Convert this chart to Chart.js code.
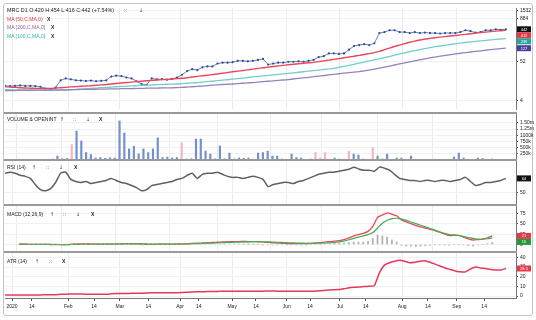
<!DOCTYPE html>
<html>
<head>
<meta charset="utf-8">
<script src="https://cdn.jsdelivr.net/npm/chart.js@4.4.0/dist/chart.umd.min.js"></script>
<style>
  body { margin: 0; background: #fff; width: 536px; height: 320px; overflow: hidden; position: relative;
         font-family: "Liberation Sans", Arial, sans-serif; }
  canvas { position: absolute; left: 0; }
  .frame { position: absolute; left: 3px; top: 3px; width: 528px; height: 311px; border: 1px solid #c4c4c4; border-radius: 3px; }
  .sep { position: absolute; left: 4px; width: 513px; height: 2px; background: #999; }
  .lbl { position: absolute; font-size: 5px; line-height: 6px; color: #222; white-space: nowrap; }
  .ico { position: absolute; font-size: 5px; line-height: 6px; color: #333; font-family: "DejaVu Sans", sans-serif; }
</style>
</head>
<body>
<div class="frame"></div>
<canvas id="priceChart" width="536" height="109" style="top:4px"></canvas>
<canvas id="volChart" width="536" height="46" style="top:114px"></canvas>
<canvas id="rsiChart" width="536" height="44" style="top:161px"></canvas>
<canvas id="macdChart" width="536" height="46" style="top:206px"></canvas>
<canvas id="atrChart" width="536" height="61" style="top:253px"></canvas>

<div class="sep" style="top:112px"></div>
<div class="sep" style="top:159px"></div>
<div class="sep" style="top:204px"></div>
<div class="sep" style="top:251px"></div>

<div class="lbl" style="left:7px;top:7px;font-size:5.4px">MRC D1 O:420 H:454 L:416 C:442 (+7.54%)</div>
<div class="ico" style="left:124px;top:7px">∷</div>
<div class="ico" style="left:139px;top:7px">↓</div>
<div class="lbl" style="left:7px;top:16px;color:#e03545">MA (50,C,MA,0)</div>
<div class="lbl" style="left:47px;top:16px;font-weight:bold">X</div>
<div class="lbl" style="left:7px;top:24px;color:#8a62a8">MA (200,C,MA,0)</div>
<div class="lbl" style="left:51px;top:24px;font-weight:bold">X</div>
<div class="lbl" style="left:7px;top:33px;color:#2fb0a6">MA (100,C,MA,0)</div>
<div class="lbl" style="left:51px;top:33px;font-weight:bold">X</div>

<div class="lbl" style="left:7px;top:116px">VOLUME &amp; OPENINT</div>
<div class="ico" style="left:60px;top:116px">↑</div>
<div class="ico" style="left:73px;top:116px">∷</div>
<div class="ico" style="left:86px;top:116px">↓</div>
<div class="lbl" style="left:99px;top:116px;font-weight:bold">X</div>

<div class="lbl" style="left:7px;top:164px">RSI (14)</div>
<div class="ico" style="left:32px;top:164px">↑</div>
<div class="ico" style="left:46px;top:164px">∷</div>
<div class="ico" style="left:59px;top:164px">↓</div>
<div class="lbl" style="left:74px;top:164px;font-weight:bold">X</div>

<div class="lbl" style="left:7px;top:211px">MACD (12,26,9)</div>
<div class="ico" style="left:50px;top:211px">↑</div>
<div class="ico" style="left:63px;top:211px">∷</div>
<div class="ico" style="left:76px;top:211px">↓</div>
<div class="lbl" style="left:91px;top:211px;font-weight:bold">X</div>

<div class="lbl" style="left:7px;top:258px">ATR (14)</div>
<div class="ico" style="left:35px;top:258px">↑</div>
<div class="ico" style="left:49px;top:258px">∷</div>
<div class="lbl" style="left:62px;top:258px;font-weight:bold">X</div>

<script>
// x axis ticks (in bar index units)
const xTickPos = [1.4, 5.3, 12.5, 17.6, 22.7, 28.3, 34.6, 38.3, 44.9, 49.6, 55.7, 60.3, 66.2, 71.3, 78.5, 83.6, 89.3, 94.7];
const xTickLabels = ['2020', '14', 'Feb', '14', 'Mar', '14', 'Apr', '14', 'May', '14', 'Jun', '14', 'Jul', '14', 'Aug', '14', 'Sep', '14'];

// price + moving averages
const price = [
  10.6, 10.4, 10.6, 10.9, 10.6, 10.6, 10.4, 10.0, 8.9, 8.5,
  9.4, 15.3, 17.3, 16.3, 15.3, 15.0, 14.6, 15.0, 14.4, 14.8,
  15.2, 19.6, 20.8, 20.2, 18.4, 17.3, 14.4, 12.0, 11.3, 17.3,
  16.3, 16.5, 16.0, 16.8, 18.4, 22.1, 28.2, 31.9, 30.0, 36.1,
  38.3, 38.3, 46.0, 48.9, 49.0, 50.5, 55.3, 55.0, 53.6, 55.3,
  58.8, 62.5, 43.3, 46.0, 48.9, 48.9, 52.0, 52.0, 53.6, 52.0,
  55.3, 58.8, 70.6, 75.0, 90.0, 90.0, 87.0, 90.0, 115, 147,
  156, 166, 156, 176, 345, 367, 415, 415, 367, 367,
  345, 367, 345, 356, 345, 345, 335, 345, 345, 345,
  367, 415, 390, 356, 367, 415, 415, 441, 428, 442
];
const ma50 = [
  10.0, 9.8, 9.6, 9.4, 9.2, 9.1, 9.0, 8.9, 8.9, 9.0,
  9.2, 9.4, 9.6, 9.9, 10.1, 10.3, 10.5, 10.7, 11.0, 11.3,
  11.6, 12.0, 12.4, 12.8, 13.2, 13.6, 14.0, 14.4, 14.8, 15.2,
  15.6, 16.0, 16.3, 16.7, 17.1, 17.5, 18.2, 19.0, 19.8, 20.6,
  21.4, 22.3, 23.3, 24.4, 25.6, 26.8, 28.0, 29.2, 30.5, 32,
  33.5, 35, 36.5, 38, 39.5, 41, 42.5, 44, 45.5, 47,
  48.5, 50, 52.5, 55, 58, 61, 64, 67.5, 71, 75,
  79, 84, 89, 95, 103, 115, 128, 142, 156, 171,
  188, 203, 218, 232, 243, 254, 264, 273, 283, 293,
  305, 317, 330, 342, 355, 367, 380, 392, 403, 412
];
const ma100 = [
  8.3, 8.3, 8.2, 8.2, 8.1, 8.1, 8.0, 8.0, 7.9, 7.9,
  7.9, 7.9, 8.0, 8.2, 8.4, 8.6, 8.8, 9.0, 9.2, 9.4,
  9.6, 9.8, 10.0, 10.2, 10.4, 10.6, 10.8, 11.0, 11.1, 11.3,
  11.5, 11.6, 11.8, 11.9, 12.0, 12.3, 12.6, 12.9, 13.2, 13.6,
  14.0, 14.4, 14.9, 15.4, 15.9, 16.5, 17.1, 17.7, 18.4, 19.1,
  19.8, 20.5, 21.2, 21.9, 22.7, 23.5, 24.3, 25.1, 26.0, 26.9,
  27.9, 29.0, 30.0, 31.2, 32.4, 33.7, 36, 38.5, 41, 44,
  47.5, 51, 55, 59, 63, 68, 74, 80, 87, 94,
  101, 108, 116, 124, 132, 140, 147, 154, 162, 170,
  178, 185, 192, 199, 206, 213, 220, 227, 233, 239
];
const ma200 = [
  7.8, 7.8, 7.8, 7.9, 7.9, 7.9, 8.0, 8.0, 8.0, 8.1,
  8.1, 8.2, 8.2, 8.3, 8.3, 8.4, 8.4, 8.5, 8.5, 8.6,
  8.6, 8.7, 8.7, 8.8, 8.8, 8.9, 8.95, 9.0, 9.1, 9.15,
  9.2, 9.25, 9.3, 9.35, 9.4, 9.6, 9.8, 10.0, 10.2, 10.5,
  10.8, 11.2, 11.4, 11.6, 11.8, 12.0, 12.3, 12.6, 12.9, 13.2,
  13.6, 14.0, 14.4, 14.8, 15.2, 15.6, 16.1, 16.7, 17.3, 17.9,
  18.6, 19.4, 20.1, 20.9, 21.8, 22.7, 23.6, 24.5, 25.3, 26.2,
  27.2, 28.5, 30, 32, 34, 36.5, 39, 42, 45, 48,
  51.5, 55, 59, 63, 67, 71, 75, 79, 83, 87,
  91, 95, 99, 103, 107, 111, 115, 119, 123, 127
];
const priceTicks = [4, 52, 884, 1532];

// volume (millions)
const volume = [
  0.03, 0.02, 0.03, 0.02, 0.03, 0.02, 0.03, 0.04, 0.16, 0.05,
  0.06, 0.62, 1.17, 0.77, 0.30, 0.22, 0.08, 0.10, 0.07, 0.09,
  0.08, 1.58, 1.09, 0.45, 0.55, 0.25, 0.45, 0.30, 0.45, 0.90,
  0.10, 0.12, 0.08, 0.10, 0.70, 0.04, 0.05, 0.85, 0.85, 0.36,
  0.24, 0.05, 0.57, 0.05, 0.28, 0.04, 0.08, 0.07, 0.08, 0.03,
  0.28, 0.30, 0.36, 0.16, 0.16, 0.04, 0.03, 0.24, 0.10, 0.08,
  0.03, 0.04, 0.30, 0.05, 0.30, 0.03, 0.08, 0.04, 0.03, 0.36,
  0.24, 0.20, 0.04, 0.03, 0.50, 0.16, 0.04, 0.24, 0.03, 0.08,
  0.08, 0.03, 0.16, 0.03, 0.02, 0.03, 0.02, 0.03, 0.02, 0.03,
  0.02, 0.12, 0.28, 0.08, 0.03, 0.02, 0.08, 0.06, 0.03, 0.04
];
const volDownDays = [11, 34, 62, 64, 69, 74];
const volTicks = [0.25, 0.5, 0.75, 1.0, 1.25, 1.5];
const volTickLabels = ['250k', '500k', '750k', '1000k', '1.25m', '1.50m'];

// RSI (14)
const rsi = [
  69, 70, 69, 67, 66, 64, 58, 53, 52, 54,
  60, 69, 70, 63, 61, 60, 61, 59, 60, 61,
  62, 64, 62, 60, 59, 57, 55, 52, 53, 57,
  58, 59, 60, 61, 63, 64, 67, 69, 64, 68,
  69, 69, 70, 68, 66, 65, 65, 64, 65, 66,
  65, 63, 56, 58, 59, 60, 60, 59, 61, 62,
  64, 66, 68, 69, 70, 70, 71, 72, 73, 75,
  73, 72, 72, 71, 75, 74, 72, 68, 64, 63,
  62, 62, 61, 62, 62, 61, 62, 62, 61, 62,
  63, 65, 61, 57, 58, 60, 60, 61, 62, 64
];
const rsiTicks = [50];

// MACD (12,26,9)
const macd = [
  0.6, 0.6, 0.5, 0.5, 0.4, 0.3, 0.1, -0.2, -0.4, -0.5,
  -0.3, 0.6, 1.2, 1.4, 1.3, 1.2, 1.0, 0.9, 0.8, 0.8,
  0.9, 1.5, 2.0, 2.1, 1.8, 1.4, 0.9, 0.4, 0.1, 0.6,
  0.8, 1.0, 1.0, 1.1, 1.3, 1.8, 2.5, 3.2, 3.5, 4.0,
  4.6, 5.2, 5.8, 6.3, 6.7, 7.0, 7.2, 7.3, 7.2, 7.0,
  6.6, 6.2, 5.0, 4.2, 3.5, 2.9, 2.4, 2.0, 1.9, 1.9,
  2.2, 2.8, 3.6, 4.6, 6.0, 7.0, 8.0, 9.5, 12, 16,
  21, 24, 27, 32, 44, 66, 72, 77, 74, 70,
  60, 55, 51, 46, 43, 40, 37, 34, 30, 26,
  22, 23, 22, 18, 14, 11, 12, 13, 16, 21
];
const macdSignal = [
  0.7, 0.7, 0.6, 0.6, 0.5, 0.5, 0.4, 0.3, 0.1, -0.1,
  -0.2, 0, 0.3, 0.5, 0.7, 0.8, 0.9, 0.9, 0.9, 0.9,
  0.9, 1.0, 1.2, 1.4, 1.5, 1.5, 1.4, 1.2, 1.0, 0.9,
  0.9, 0.9, 0.9, 1.0, 1.1, 1.3, 1.6, 2.0, 2.4, 2.8,
  3.2, 3.7, 4.2, 4.7, 5.2, 5.6, 6.0, 6.4, 6.6, 6.8,
  6.8, 6.7, 6.4, 6.0, 5.5, 5.0, 4.5, 4.0, 3.6, 3.3,
  3.0, 2.9, 3.0, 3.3, 3.7, 4.2, 5.0, 6.5, 8.5, 11.5,
  15, 18, 21, 24, 29, 40, 52, 59, 63, 64,
  62, 59, 55, 51, 47, 43, 39, 35, 31, 27,
  24, 23, 22, 19, 17, 15, 13, 13, 14, 16
];
const macdHist = [
  0, 0, 0, 0, 0, 0, 0, 0, 0, 0,
  0, 0.3, 0.5, 0.5, 0.4, 0.2, 0, 0, 0, 0,
  0, 0.3, 0.5, 0.4, 0.2, 0, -0.3, -0.5, -0.6, 0,
  0, 0, 0, 0, 0.2, 0.4, 0.6, 0.9, 0.8, 1.0,
  1.2, 1.3, 1.4, 1.3, 1.2, 1.1, 0.9, 0.6, 0.4, 0.2,
  0, -0.3, -1.0, -1.2, -1.3, -1.2, -1.0, -0.8, -0.6, -0.4,
  -0.2, 0.3, 0.6, 0.3, 2.3, 2.8, 3.2, 3.0, 3.5, 4.5,
  6, 6, 6, 8, 15, 23, 21, 18, 11, 6,
  -2, -4, -4, -5, -4, -3, -2, -1, -1, -1,
  -2, 0, 0, -1, -3, -4, -1, 0, 2, 5
];
const macdTicks = [0, 25, 50, 75];

// ATR (14)
const atr = [
  1.0, 1.0, 1.0, 1.0, 1.1, 1.1, 1.2, 1.2, 1.3, 1.3,
  1.4, 1.8, 2.0, 2.1, 2.1, 2.1, 2.0, 2.0, 2.0, 2.0,
  2.0, 2.3, 2.6, 2.7, 2.7, 2.8, 2.9, 3.0, 3.1, 3.3,
  3.3, 3.3, 3.3, 3.3, 3.4, 3.6, 4.0, 4.3, 4.4, 4.5,
  4.6, 4.7, 4.8, 4.9, 5.0, 5.0, 5.0, 5.0, 5.0, 5.0,
  5.0, 5.0, 5.3, 5.2, 5.1, 5.0, 5.0, 4.9, 4.9, 4.9,
  5.0, 5.1, 5.4, 5.7, 6.2, 6.5, 6.8, 7.5, 8.5, 9.0,
  9.3, 9.8, 10.2, 10.8, 24, 32, 34.5, 36, 37, 36,
  34.5, 35, 36, 36.5, 35, 33, 31, 29, 27.5, 26,
  25, 25, 28, 30, 29, 28.5, 27.5, 27, 27, 28.5
];
const atrTicks = [0, 10, 20, 30, 40];

Chart.defaults.font.family = '"Liberation Sans", Arial, sans-serif';
Chart.defaults.font.size = 5;
Chart.defaults.color = '#222';

const idx = price.map((_, i) => i);
const pts = arr => arr.map((v, i) => ({ x: idx[i], y: v }));
const last = arr => arr[arr.length - 1];

// last-value boxes on the right axis
const valueBoxes = {
  id: 'valueBoxes',
  afterDraw(chart, args, opts) {
    const items = (opts.items || []).map(b => ({ ...b, y: chart.scales.y.getPixelForValue(b.value) }));
    items.sort((a, b) => a.y - b.y);
    for (let k = 1; k < items.length; k++) {
      if (items[k].y - items[k - 1].y < 6) items[k].y = items[k - 1].y + 6;
    }
    const ctx = chart.ctx;
    ctx.save();
    items.forEach(b => {
      ctx.fillStyle = b.color;
      ctx.fillRect(517, b.y - 3, 14, 6);
      ctx.fillStyle = '#fff';
      ctx.font = '4px "Liberation Sans", Arial';
      ctx.textAlign = 'center';
      ctx.textBaseline = 'middle';
      ctx.fillText(b.text, 524, b.y + 0.3);
    });
    ctx.restore();
  }
};

function xAxis(showLabels) {
  return {
    type: 'linear',
    min: 0,
    max: 101,
    afterBuildTicks: s => { s.ticks = xTickPos.map(v => ({ value: v })); },
    ticks: {
      display: showLabels, autoSkip: false, maxRotation: 0, padding: 3,
      font: { size: 5 }, color: '#222',
      callback: (v, i) => xTickLabels[i]
    },
    grid: {
      color: ctx => (ctx.index % 2 === 0 ? '#ebebeb' : 'rgba(0,0,0,0)'),
      drawTicks: showLabels, tickLength: 3, tickColor: '#555'
    },
    border: { display: showLabels, color: '#777' },
    afterFit: s => { s.height = showLabels ? 16 : 0; s.paddingLeft = 0; s.paddingRight = 0; }
  };
}

function yAxis(extra, tickValues, labelFn) {
  return Object.assign({
    position: 'right',
    afterBuildTicks: s => { s.ticks = tickValues.map(v => ({ value: v })); },
    ticks: { font: { size: 5 }, color: '#222', padding: 2, autoSkip: false,
             callback: (v, i) => (labelFn ? labelFn(v, i) : String(v)) },
    grid: { color: '#f1f1f1', tickLength: 2, tickColor: '#555' },
    border: { display: true, color: '#777' },
    afterFit: s => { s.width = 20; s.paddingTop = 0; s.paddingBottom = 0; }
  }, extra);
}

const base = {
  responsive: false,
  animation: false,
  devicePixelRatio: 1,
  layout: { padding: { left: 5, right: 0, top: 0, bottom: 0 } },
  elements: { point: { radius: 0 }, line: { tension: 0.2 } }
};

function lineSet(arr, color, width) {
  return { type: 'line', data: pts(arr), borderColor: color, borderWidth: width, pointRadius: 0, fill: false };
}

// price panel
new Chart(document.getElementById('priceChart'), {
  type: 'line',
  data: {
    datasets: [
      lineSet(ma200, '#9a80c0', 1.3),
      lineSet(ma100, '#72cfc6', 1.3),
      lineSet(ma50, '#e8485a', 1.4),
      { type: 'line', data: pts(price), borderColor: '#4262ac', borderWidth: 0.8,
        pointRadius: 1.1, pointBackgroundColor: '#2c4b92', pointBorderWidth: 0, tension: 0 }
    ]
  },
  options: Object.assign({}, base, {
    scales: {
      x: xAxis(false),
      y: yAxis({ type: 'logarithmic', min: 2.31, max: 1797 }, priceTicks)
    },
    plugins: {
      legend: { display: false }, tooltip: { enabled: false },
      valueBoxes: { items: [
        { value: last(price), color: '#111', text: String(last(price)) },
        { value: last(ma50), color: '#e23a48', text: String(last(ma50)) },
        { value: last(ma100), color: '#25a69c', text: String(last(ma100)) },
        { value: last(ma200), color: '#4b3f9c', text: String(last(ma200)) }
      ] }
    }
  }),
  plugins: [valueBoxes]
});

// volume panel
new Chart(document.getElementById('volChart'), {
  type: 'bar',
  data: {
    datasets: [{
      data: pts(volume),
      backgroundColor: idx.map(i => (volDownDays.includes(i) ? '#f3b6c0' : '#7290cc')),
      barThickness: 1.5
    }]
  },
  options: Object.assign({}, base, {
    scales: {
      x: xAxis(false),
      y: yAxis({ min: 0, max: 1.86 }, volTicks, (v, i) => volTickLabels[i])
    },
    plugins: { legend: { display: false }, tooltip: { enabled: false } }
  })
});

// RSI panel
new Chart(document.getElementById('rsiChart'), {
  type: 'line',
  data: { datasets: [lineSet(rsi, '#606060', 1.5)] },
  options: Object.assign({}, base, {
    scales: {
      x: xAxis(false),
      y: yAxis({ min: 38, max: 81 }, rsiTicks)
    },
    plugins: {
      legend: { display: false }, tooltip: { enabled: false },
      valueBoxes: { items: [{ value: last(rsi), color: '#111', text: String(last(rsi)) }] }
    }
  }),
  plugins: [valueBoxes]
});

// MACD panel
new Chart(document.getElementById('macdChart'), {
  type: 'bar',
  data: {
    datasets: [
      { type: 'bar', data: pts(macdHist), backgroundColor: '#b4b4b4', barThickness: 1.2 },
      lineSet(macdSignal, '#3fae50', 1.2),
      lineSet(macd, '#e8485a', 1.3)
    ]
  },
  options: Object.assign({}, base, {
    scales: {
      x: xAxis(false),
      y: yAxis({ min: -18.3, max: 93.9 }, macdTicks)
    },
    plugins: {
      legend: { display: false }, tooltip: { enabled: false },
      valueBoxes: { items: [
        { value: last(macd), color: '#e23a48', text: String(last(macd)) },
        { value: last(macdSignal), color: '#1f9a3a', text: String(last(macdSignal)) }
      ] }
    }
  }),
  plugins: [valueBoxes]
});

// ATR panel (with date axis)
new Chart(document.getElementById('atrChart'), {
  type: 'line',
  data: { datasets: [lineSet(atr, '#e5385a', 1.5)] },
  options: Object.assign({}, base, {
    scales: {
      x: xAxis(true),
      y: yAxis({ min: -2, max: 44.5 }, atrTicks)
    },
    plugins: {
      legend: { display: false }, tooltip: { enabled: false },
      valueBoxes: { items: [{ value: last(atr), color: '#e23a48', text: String(last(atr)) }] }
    }
  }),
  plugins: [valueBoxes]
});
</script>
</body>
</html>
